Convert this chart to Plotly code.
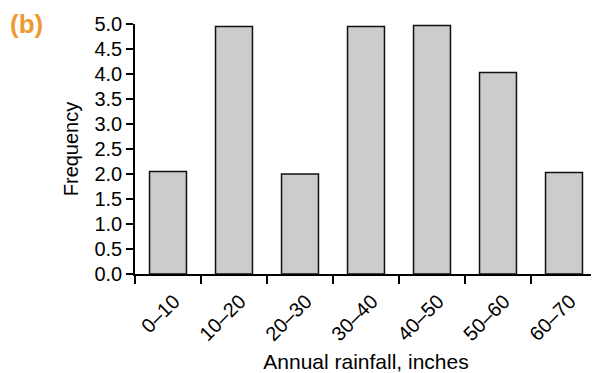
import plotly.graph_objects as go

# rainfall bins and counts
bins = ["0–10", "10–20", "20–30", "30–40", "40–50", "50–60", "60–70"]
frequency = [2.05, 4.95, 2.0, 4.95, 4.97, 4.03, 2.03]
y_ticks = [0, 0.5, 1.0, 1.5, 2.0, 2.5, 3.0, 3.5, 4.0, 4.5, 5.0]

fig = go.Figure()

fig.add_trace(go.Bar(
    x=bins,
    y=frequency,
    marker=dict(color="#CCCCCC", line=dict(color="#111111", width=1.5)),
    hoverinfo="x+y",
))

# page body has an 8px margin, so the figure is shrunk by 8px to fit the window
fig.update_layout(
    width=591,
    height=365,
    template="none",
    plot_bgcolor="white",
    paper_bgcolor="white",
    margin=dict(l=127, r=2, t=16, b=99),
    bargap=0.44,
    showlegend=False,
    font=dict(family="Liberation Sans, Arial, sans-serif", size=20, color="black"),
    annotations=[dict(
        text="<b>(b)</b>", xref="paper", yref="paper",
        x=-127 / 462, y=1.068, xanchor="left", yanchor="top", showarrow=False,
        font=dict(size=26, color="#EE9A32"),
    )],
)

fig.update_xaxes(
    type="category",
    automargin=False,
    tickson="boundaries",
    ticks="outside",
    ticklen=8,
    tickwidth=1.5,
    tickcolor="black",
    tickangle=-45,
    tickfont=dict(size=20),
    ticklabelstandoff=6,
    ticklabelshift=6,
    showline=True,
    linecolor="black",
    linewidth=1.5,
    showgrid=False,
    zeroline=False,
    title=dict(text="Annual rainfall, inches", standoff=16, font=dict(size=21)),
)

fig.update_yaxes(
    range=[0, 5],
    automargin=False,
    tickvals=y_ticks,
    tickformat=".1f",
    ticks="outside",
    ticklen=7,
    tickwidth=1.5,
    tickcolor="black",
    tickfont=dict(size=20),
    showline=True,
    linecolor="black",
    linewidth=1.5,
    showgrid=False,
    zeroline=False,
    title=dict(text="Frequency", standoff=10, font=dict(size=20)),
)

fig.write_html("out.html")
